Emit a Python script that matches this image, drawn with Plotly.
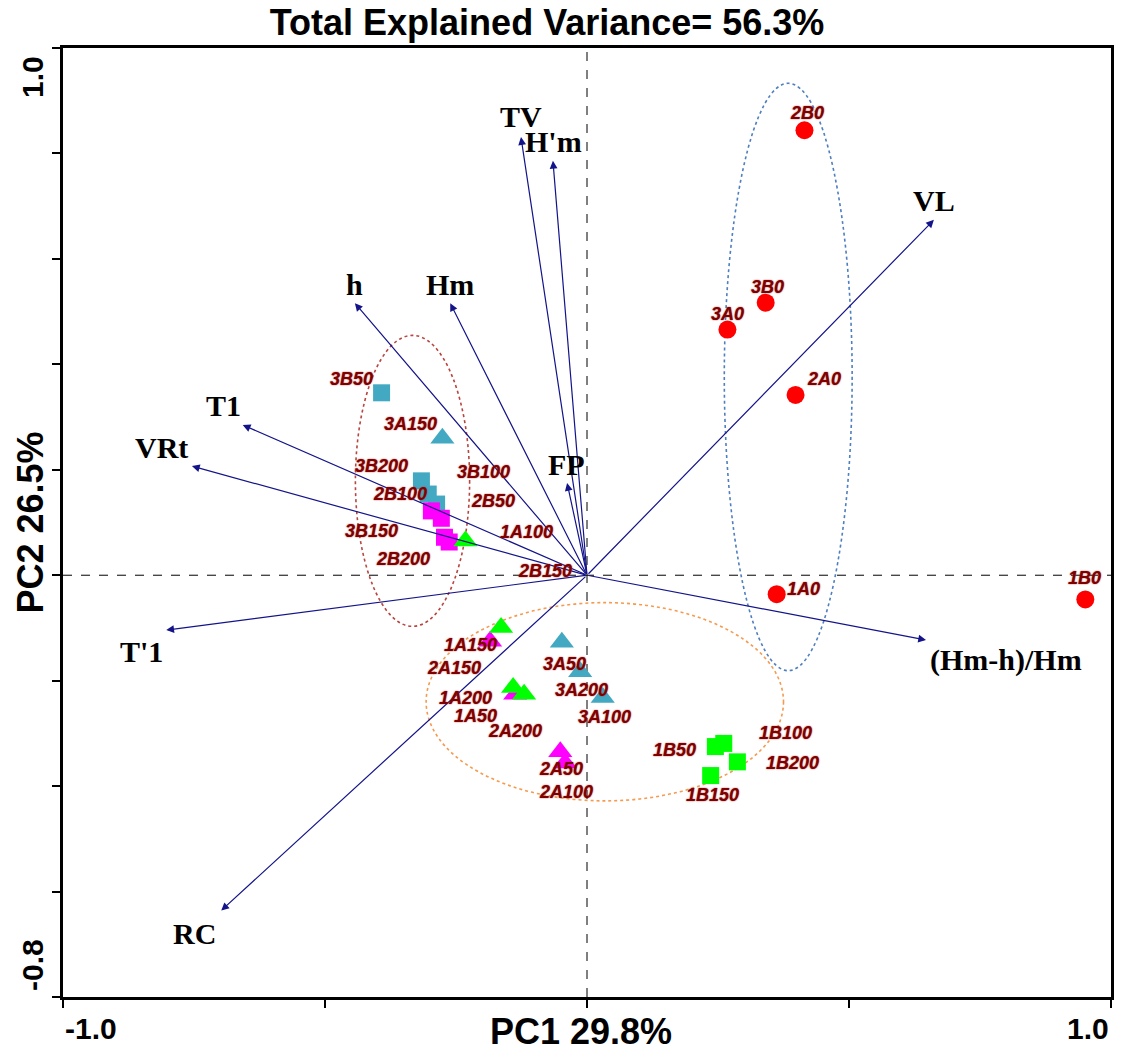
import plotly.graph_objects as go

# ---- PCA biplot data -------------------------------------------------------
# Variable loadings (arrow tips)
var_names = ["TV", "H'm", "h", "Hm", "T1", "VRt", "T'1", "RC", "VL", "(Hm-h)/Hm", "FP"]
var_pc1 = [-0.126, -0.065, -0.443, -0.261, -0.657, -0.754, -0.803, -0.698, 0.662, 0.647, -0.038]
var_pc2 = [0.831, 0.786, 0.516, 0.516, 0.285, 0.207, -0.104, -0.636, 0.674, -0.123, 0.175]

# Sample scores, one list per treatment group
g0_names = ["2B0", "3B0", "3A0", "2A0", "1A0", "1B0"]
g0_pc1 = [0.415, 0.341, 0.268, 0.398, 0.362, 0.951]
g0_pc2 = [0.844, 0.517, 0.466, 0.342, -0.036, -0.046]

g3b_names = ["3B50", "3B200", "3B100", "3B150"]
g3b_pc1 = [-0.392, -0.316, -0.303, -0.287]
g3b_pc2 = [0.346, 0.179, 0.154, 0.135]

g2b_names = ["2B100", "2B50", "2B200", "2B150"]
g2b_pc1 = [-0.297, -0.278, -0.272, -0.263]
g2b_pc2 = [0.122, 0.108, 0.072, 0.063]

g1b_names = ["1B50", "1B100", "1B200", "1B150"]
g1b_pc1 = [0.245, 0.261, 0.287, 0.236]
g1b_pc2 = [-0.325, -0.319, -0.354, -0.380]

g3a_names = ["3A150", "3A50", "3A200", "3A100"]
g3a_pc1 = [-0.276, -0.048, -0.013, 0.030]
g3a_pc2 = [0.260, -0.127, -0.183, -0.232]

g2a_names = ["2A150", "2A200", "2A50", "2A100"]
g2a_pc1 = [-0.185, -0.137, -0.051, -0.042]
g2a_pc2 = [-0.125, -0.226, -0.335, -0.356]

g1a_names = ["1A100", "1A150", "1A200", "1A50"]
g1a_pc1 = [-0.232, -0.164, -0.141, -0.120]
g1a_pc2 = [0.065, -0.099, -0.213, -0.226]

# Confidence ellipses: centre and semi-axes in PC units
ell_cx = [0.384, -0.333, 0.034]
ell_cy = [0.376, 0.179, -0.240]
ell_rx = [0.122, 0.109, 0.341]
ell_ry = [0.557, 0.276, 0.188]

# ---- styling ----------------------------------------------------------------
ell_colors = ["#4F7FBF", "#B8453F", "#F59A4E"]
arrow_color = "#14148A"
label_color = "#800000"

# label offsets (pixels, right / down) for sample names
sample_offsets = {
    "2B0": (3, -17), "3B0": (2, -16), "3A0": (0, -16), "2A0": (28, -16),
    "1A0": (27, -5), "1B0": (-1, -21),
    "3B50": (-30, -14), "3B200": (-40, -15), "3B100": (55, -22), "3B150": (-65, 27),
    "2B100": (-31, -17), "2B50": (52, -17), "2B200": (-41, 22), "2B150": (96, 29),
    "1B50": (-41, 3), "1B100": (62, -10), "1B200": (55, 1), "1B150": (2, 19),
    "3A150": (-32, -14), "3A50": (3, 22), "3A200": (1, 18), "3A100": (2, 19),
    "2A150": (-36, 27), "2A200": (0, 37), "2A50": (1, 17), "2A100": (1, 29),
    "1A100": (61, -9), "1A150": (-31, 18), "1A200": (-48, 10), "1A50": (-49, 22),
}
# label offsets for variable names
var_offsets = {
    "TV": (0, -21), "H'm": (1, -19), "h": (0, -19), "Hm": (0, -19),
    "T1": (-19, -19), "VRt": (-30, -19), "T'1": (-25, 21), "RC": (-27, 23),
    "VL": (0, -19), "(Hm-h)/Hm": (80, 20), "FP": (-1, -18),
}

fig = go.Figure()

groups = [
    (g0_names, g0_pc1, g0_pc2, "circle", "#FF0000", 18),
    (g3b_names, g3b_pc1, g3b_pc2, "square", "#43A9C2", 17),
    (g2b_names, g2b_pc1, g2b_pc2, "square", "#FF00FF", 17),
    (g1b_names, g1b_pc1, g1b_pc2, "square", "#00FF00", 17),
    (g3a_names, g3a_pc1, g3a_pc2, "triangle-up", "#43A9C2", 21),
    (g2a_names, g2a_pc1, g2a_pc2, "triangle-up", "#FF00FF", 21),
    (g1a_names, g1a_pc1, g1a_pc2, "triangle-up", "#00FF00", 21),
]

shapes = []
# ellipses
for cx, cy, rx, ry, col in zip(ell_cx, ell_cy, ell_rx, ell_ry, ell_colors):
    shapes.append(dict(type="circle", xref="x", yref="y",
                       x0=cx - rx, x1=cx + rx, y0=cy - ry, y1=cy + ry,
                       line=dict(color=col, width=1.6, dash="dot"), layer="below"))
# zero reference lines
shapes.append(dict(type="line", xref="x", yref="y", x0=-1, x1=1, y0=0, y1=0,
                   line=dict(color="black", width=1, dash="dash"), layer="below"))
shapes.append(dict(type="line", xref="x", yref="y", x0=0, x1=0, y0=-0.8, y1=1.0,
                   line=dict(color="black", width=1, dash="dash"), layer="below"))

annotations = []
# loading arrows
for name, vx, vy in zip(var_names, var_pc1, var_pc2):
    annotations.append(dict(x=vx, y=vy, ax=0, ay=0, xref="x", yref="y",
                            axref="x", ayref="y", text="", showarrow=True,
                            arrowhead=2, arrowsize=1.3, arrowwidth=1.2,
                            arrowcolor=arrow_color, standoff=0))

sample_font = dict(family="Liberation Sans, Arial", size=18, color=label_color,
                   weight="bold", style="italic", shadow="0px 0px 1.5px #a03030")

for names, xs, ys, sym, col, sz in groups:
    fig.add_trace(go.Scatter(x=xs, y=ys, mode="markers", text=names,
                             marker=dict(symbol=sym, color=col, size=sz, line=dict(width=0)),
                             showlegend=False, hoverinfo="text"))
    for n, x, y in zip(names, xs, ys):
        dx, dy = sample_offsets[n]
        annotations.append(dict(x=x, y=y, xref="x", yref="y", text=n, showarrow=False,
                                xshift=dx, yshift=-dy, font=sample_font))

for name, vx, vy in zip(var_names, var_pc1, var_pc2):
    dx, dy = var_offsets[name]
    annotations.append(dict(x=vx, y=vy, xref="x", yref="y", text=name, showarrow=False,
                            xshift=dx, yshift=-dy,
                            font=dict(family="Liberation Serif, Times New Roman", size=30,
                                      color="black", weight="bold")))

# axis titles and end tick labels
bold = dict(family="Liberation Sans, Arial", size=36, color="black", weight="bold")
tick_font = dict(family="Liberation Sans, Arial", size=30, color="black", weight="bold")
annotations += [
    dict(x=0.5, y=0, xref="paper", yref="paper", text="PC1 29.8%", showarrow=False,
         xshift=-6, yshift=-34, yanchor="middle", font=bold),
    dict(x=0, y=0.5, xref="paper", yref="paper", text="PC2 26.5%", showarrow=False,
         textangle=-90, xshift=-33, xanchor="center", yanchor="middle", font=bold),
    dict(x=-1, y=0, xref="x", yref="paper", text="-1.0", showarrow=False,
         xanchor="left", yanchor="middle", yshift=-31, font=tick_font),
    dict(x=1, y=0, xref="x", yref="paper", text="1.0", showarrow=False,
         xanchor="right", yanchor="middle", yshift=-31, font=tick_font),
    dict(x=0, y=1.0, xref="paper", yref="y", text="1.0", showarrow=False,
         textangle=-90, xanchor="center", yanchor="top", xshift=-31, yshift=-6,
         font=tick_font),
    dict(x=0, y=-0.8, xref="paper", yref="y", text="-0.8", showarrow=False,
         textangle=-90, xanchor="center", yanchor="bottom", xshift=-31, yshift=4,
         font=tick_font),
]

fig.update_layout(
    width=1121, height=1051,
    margin=dict(l=63, r=7, t=48, b=54),
    paper_bgcolor="white", plot_bgcolor="white",
    title=dict(text="Total Explained Variance= 56.3%", x=0.488, xref="container",
               xanchor="center", y=1 - 22 / 1051, yref="container", yanchor="middle",
               font=bold),
    shapes=shapes, annotations=annotations,
)
fig.update_xaxes(range=[-1, 1], tickvals=[-1, -0.5, 0, 0.5, 1], showticklabels=False,
                 ticks="outside", ticklen=8, tickwidth=1.5, tickcolor="black",
                 showline=True, linewidth=2.5, linecolor="black", mirror=True,
                 showgrid=False, zeroline=False)
fig.update_yaxes(range=[-0.8, 1.0], tickvals=[-0.8, -0.6, -0.4, -0.2, 0, 0.2, 0.4, 0.6, 0.8, 1.0],
                 showticklabels=False, ticks="outside", ticklen=8, tickwidth=1.5,
                 tickcolor="black", showline=True, linewidth=2.5, linecolor="black",
                 mirror=True, showgrid=False, zeroline=False)

fig.write_html("out.html")
